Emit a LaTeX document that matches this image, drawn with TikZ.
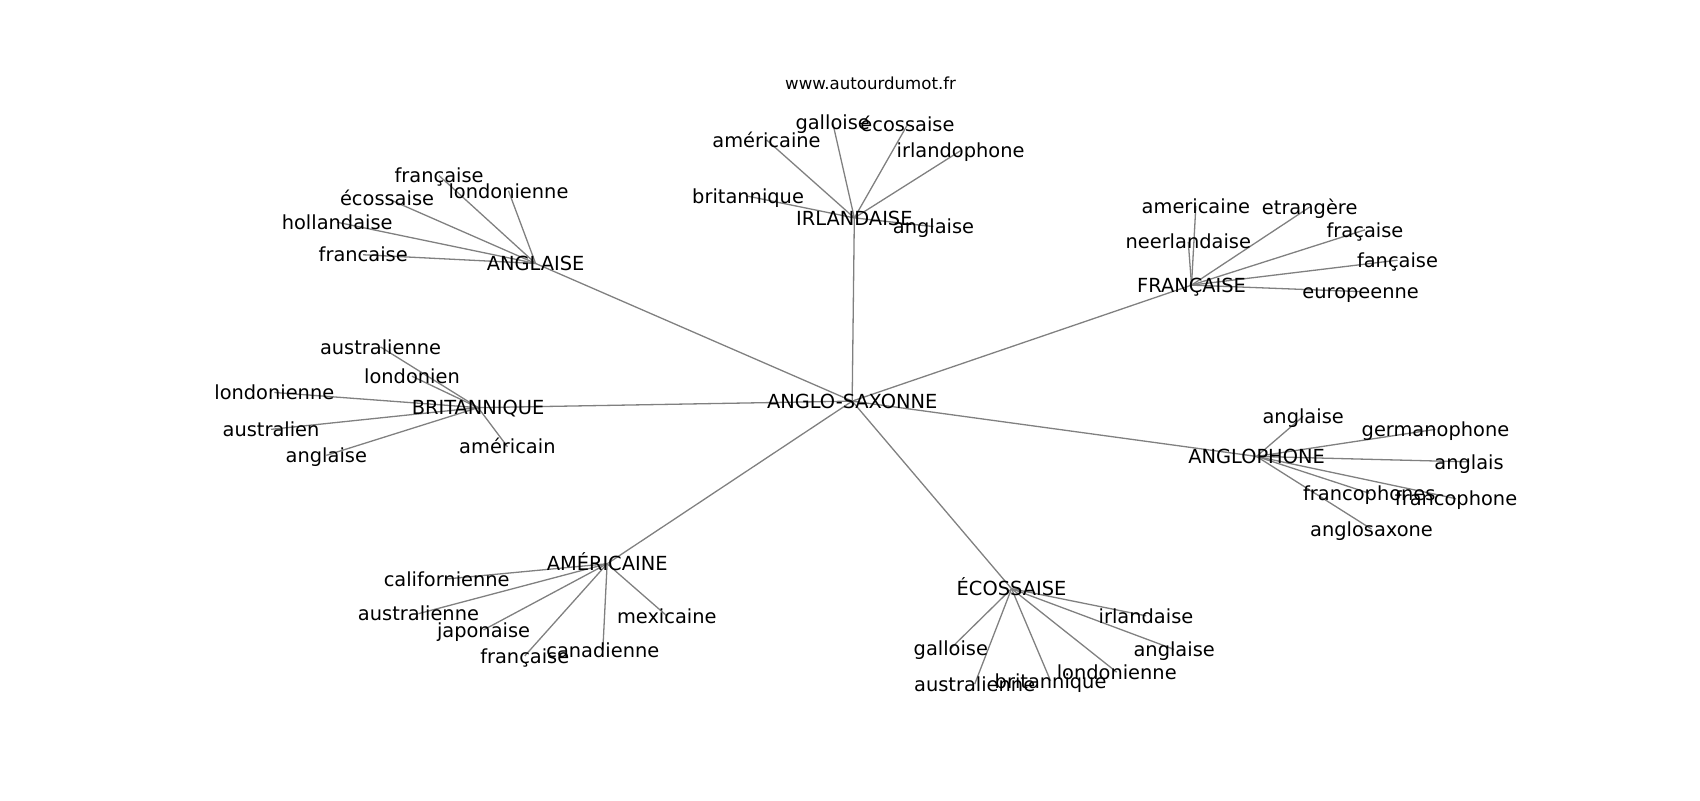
\documentclass[tikz,border=0pt]{standalone}
\usepackage{fontspec}
\setmainfont{DejaVu Sans}
\usetikzlibrary{backgrounds}
\newcommand{\wordfont}{\fontsize{9.7}{11}\selectfont}
\newcommand{\sitefont}{\fontsize{8.3}{10}\selectfont}

\begin{document}
\begin{tikzpicture}[x=0.5421pt,y=0.5421pt,yscale=-1,xscale=1,
		word/.style={font=\wordfont, inner sep=0pt, text height=0.86em, text depth=0.14em},
		site/.style={font=\sitefont, inner sep=0pt, text height=0.86em, text depth=0.14em},
		link/.style={draw=gray, line width=0.65pt}]
			\useasboundingbox (0,0) rectangle (1568,738);

			% Title
			\node [site] (site) at (803,76) {www.autourdumot.fr};

			% Centre
			\node [word] (anglosax) at (786,370) {ANGLO-SAXONNE};

			% Hubs
			\node [word] (irl) at (788,201) {IRLANDAISE};
			\node [word] (ang) at (494,243) {ANGLAISE};
			\node [word] (fra) at (1099,263) {FRANÇAISE};
			\node [word] (bri) at (441,376) {BRITANNIQUE};
			\node [word] (aph) at (1159,421) {ANGLOPHONE};
			\node [word] (ame) at (560,520) {AMÉRICAINE};
			\node [word] (eco) at (933,543) {ÉCOSSAISE};

			% Leaves of IRLANDAISE
			\node [word] (irl-ame) at (707,129) {américaine};
			\node [word] (irl-gal) at (768,113) {galloise};
			\node [word] (irl-eco) at (837,115) {écossaise};
			\node [word] (irl-irl) at (886,139) {irlandophone};
			\node [word] (irl-bri) at (690,181) {britannique};
			\node [word] (irl-ang) at (861,209) {anglaise};

			% Leaves of ANGLAISE
			\node [word] (ang-fra) at (405,162) {française};
			\node [word] (ang-lon) at (469,176) {londonienne};
			\node [word] (ang-eco) at (357,183) {écossaise};
			\node [word] (ang-hol) at (311,205) {hollandaise};
			\node [word] (ang-frc) at (335,235) {francaise};

			% Leaves of FRANÇAISE
			\node [word] (fra-ame) at (1103,190) {americaine};
			\node [word] (fra-etr) at (1208,191) {etrangère};
			\node [word] (fra-nee) at (1096,223) {neerlandaise};
			\node [word] (fra-frc) at (1259,212) {fraçaise};
			\node [word] (fra-fan) at (1289,240) {fançaise};
			\node [word] (fra-eur) at (1255,269) {europeenne};

			% Leaves of BRITANNIQUE
			\node [word] (bri-aus) at (351,320) {australienne};
			\node [word] (bri-lon) at (380,347) {londonien};
			\node [word] (bri-lnn) at (253,362) {londonienne};
			\node [word] (bri-ast) at (250,396) {australien};
			\node [word] (bri-ang) at (301,420) {anglaise};
			\node [word] (bri-ame) at (468,412) {américain};

			% Leaves of ANGLOPHONE
			\node [word] (aph-ang) at (1202,384) {anglaise};
			\node [word] (aph-ger) at (1324,396) {germanophone};
			\node [word] (aph-ais) at (1355,426) {anglais};
			\node [word] (aph-fcs) at (1263,455) {francophones};
			\node [word] (aph-fco) at (1343,460) {francophone};
			\node [word] (aph-sax) at (1265,488) {anglosaxone};

			% Leaves of AMÉRICAINE
			\node [word] (ame-cal) at (412,534) {californienne};
			\node [word] (ame-aus) at (386,566) {australienne};
			\node [word] (ame-jap) at (446,581) {japonaise};
			\node [word] (ame-fra) at (484,605) {française};
			\node [word] (ame-can) at (556,600) {canadienne};
			\node [word] (ame-mex) at (615,568) {mexicaine};

			% Leaves of ÉCOSSAISE
			\node [word] (eco-irl) at (1057,568) {irlandaise};
			\node [word] (eco-gal) at (877,598) {galloise};
			\node [word] (eco-ang) at (1083,599) {anglaise};
			\node [word] (eco-lon) at (1030,620) {londonienne};
			\node [word] (eco-bri) at (969,628) {britannique};
			\node [word] (eco-aus) at (899,631) {australienne};

			% Links
			\begin{pgfonlayer}{background}
			\foreach \hub in {irl,ang,fra,bri,aph,ame,eco}
				\draw [link] (anglosax.center) -- (\hub.center);
			\foreach \leaf in {ame,gal,eco,irl,bri,ang}
				\draw [link] (irl.center) -- (irl-\leaf.center);
			\foreach \leaf in {fra,lon,eco,hol,frc}
				\draw [link] (ang.center) -- (ang-\leaf.center);
			\foreach \leaf in {ame,etr,nee,frc,fan,eur}
				\draw [link] (fra.center) -- (fra-\leaf.center);
			\foreach \leaf in {aus,lon,lnn,ast,ang,ame}
				\draw [link] (bri.center) -- (bri-\leaf.center);
			\foreach \leaf in {ang,ger,ais,fcs,fco,sax}
				\draw [link] (aph.center) -- (aph-\leaf.center);
			\foreach \leaf in {cal,aus,jap,fra,can,mex}
				\draw [link] (ame.center) -- (ame-\leaf.center);
			\foreach \leaf in {irl,gal,ang,lon,bri,aus}
				\draw [link] (eco.center) -- (eco-\leaf.center);
			\end{pgfonlayer}

		\end{tikzpicture}
\end{document}
